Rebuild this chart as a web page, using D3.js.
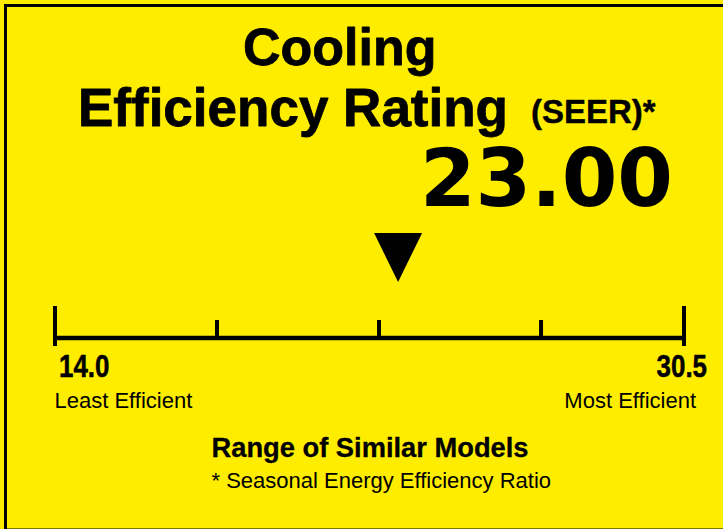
<!DOCTYPE html>
<html>
<head>
<meta charset="utf-8">
<script src="https://cdn.jsdelivr.net/npm/d3@7"></script>
<style>
html,body{margin:0;padding:0;background:#FFED00;overflow:hidden;}
svg{display:block;}
text{font-family:"Liberation Sans",Arial,sans-serif;fill:#000;}
</style>
</head>
<body>
<svg id="chart" width="723" height="529"></svg>
<script>
// ---- data ----
const titleLines = ["Cooling", "Efficiency Rating"];
const titleSuffix = "(SEER)*";
const ratingValue = 23.00;
const rangeMin = 14.0;
const rangeMax = 30.5;
const minorTicks = [18.25, 22.5, 26.75];
const endLabels = ["Least Efficient", "Most Efficient"];
const footerTitle = "Range of Similar Models";
const footnote = "* Seasonal Energy Efficiency Ratio";

const W = 723, H = 529;
const svg = d3.select("#chart");

svg.append("rect").attr("x",0).attr("y",0).attr("width",W).attr("height",H).attr("fill","#FFED00");
svg.append("rect").attr("x",5.5).attr("y",5.5).attr("width",900).attr("height",524.5)
  .attr("fill","none").attr("stroke","#000").attr("stroke-width",3);

function heavy(sel, w){ return sel.attr("stroke","#000").attr("stroke-width",w).attr("stroke-linejoin","round"); }

// titles
heavy(svg.append("text").attr("x",243).attr("y",65).attr("font-size",52).attr("font-weight","bold").text(titleLines[0]), 0.8);
heavy(svg.append("text").attr("x",78).attr("y",126).attr("font-size",53).attr("font-weight","bold").text(titleLines[1]), 0.8);
heavy(svg.append("text").attr("x",531).attr("y",123).attr("font-size",33).attr("font-weight","bold").text(titleSuffix), 0.4);

// value
svg.append("text").attr("x",673).attr("y",206).attr("text-anchor","end")
  .attr("font-size",80).attr("font-weight","bold")
  .style("font-family","'DejaVu Sans',sans-serif")
  .text(d3.format(".2f")(ratingValue));

// scale
const x = d3.scaleLinear().domain([rangeMin, rangeMax]).range([55, 684]);
const lineY = 338;
svg.append("line").attr("x1",x(rangeMin)-2).attr("x2",x(rangeMax)+2).attr("y1",lineY).attr("y2",lineY)
  .attr("stroke","#000").attr("stroke-width",4.5);
svg.selectAll("line.end").data([rangeMin, rangeMax]).enter().append("line").attr("class","end")
  .attr("x1",d=>x(d)).attr("x2",d=>x(d)).attr("y1",306).attr("y2",346)
  .attr("stroke","#000").attr("stroke-width",4);
svg.selectAll("line.minor").data(minorTicks).enter().append("line").attr("class","minor")
  .attr("x1",d=>x(d)).attr("x2",d=>x(d)).attr("y1",320).attr("y2",lineY)
  .attr("stroke","#000").attr("stroke-width",4);

// marker
const mx = x(ratingValue);
svg.append("path").attr("d",`M${mx-24},233 L${mx+24},233 L${mx},282 Z`).attr("fill","#000");

// end labels (numbers, condensed bold)
const fmt1 = d3.format(".1f");
heavy(svg.append("text").attr("transform",`translate(59,377) scale(0.81,1)`).attr("font-size",32).attr("font-weight","bold").text(fmt1(rangeMin)), 0.5);
heavy(svg.append("text").attr("transform",`translate(707,377) scale(0.81,1)`).attr("text-anchor","end").attr("font-size",32).attr("font-weight","bold").text(fmt1(rangeMax)), 0.5);
svg.append("text").attr("x",54.5).attr("y",408).attr("font-size",22).text(endLabels[0]);
svg.append("text").attr("x",696).attr("y",408).attr("text-anchor","end").attr("font-size",22).text(endLabels[1]);

// footer
heavy(svg.append("text").attr("x",211.5).attr("y",456.7).attr("font-size",27.3).attr("font-weight","bold").text(footerTitle), 0.3);
svg.append("text").attr("x",211.5).attr("y",488.3).attr("font-size",22).text(footnote);
</script>
</body>
</html>
